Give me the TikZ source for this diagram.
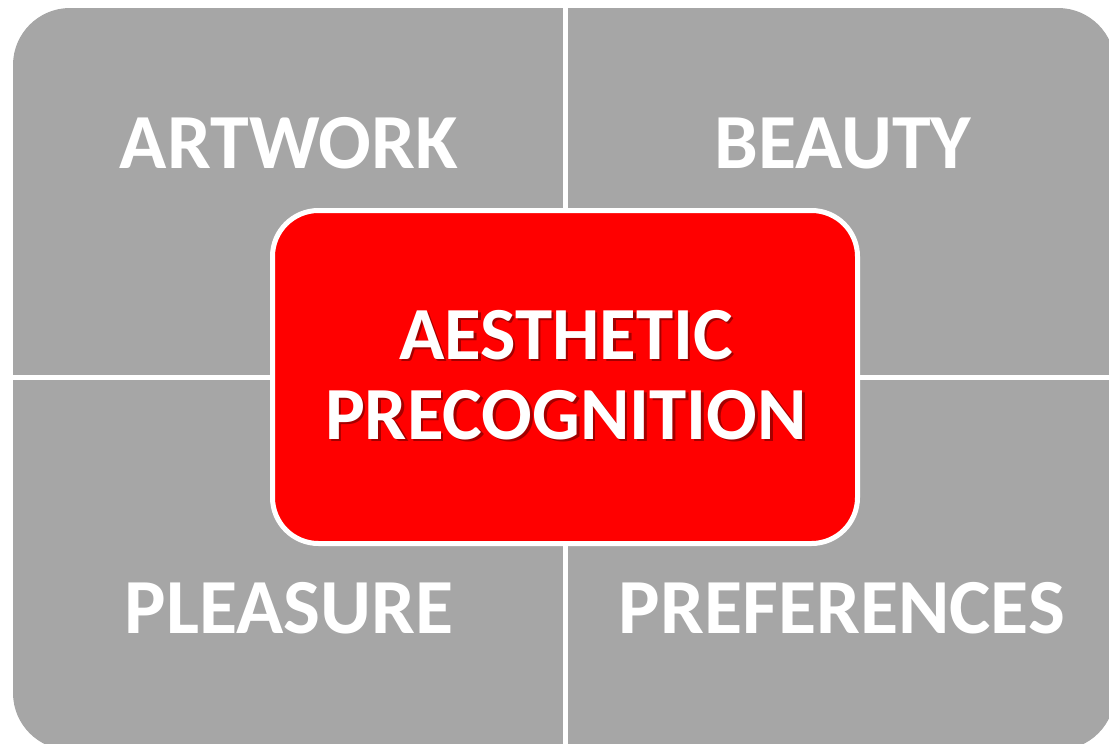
\documentclass[tikz,border=0pt]{standalone}
\usepackage{fontspec}
\setmainfont{Carlito}
\definecolor{quadgray}{HTML}{A6A6A6}
\definecolor{coreRed}{HTML}{FF0000}
\definecolor{shadowRed}{HTML}{A30000}
\newcommand{\shadowed}[1]{\leavevmode\rlap{\hspace{2.5pt}\raisebox{-2.5pt}{\textcolor{shadowRed}{#1}}}#1}
\tikzset{
  quadlabel/.style={text=white, font=\bfseries\fontsize{78}{80}\selectfont, inner sep=0pt, anchor=center},
  corelabel/.style={text=white, font=\bfseries\fontsize{75}{80}\selectfont, inner sep=0pt, anchor=center, align=center},
  gap/.style={draw=white, line width=5.5pt},
  corebox/.style={fill=coreRed, draw=white, line width=5pt, rounded corners=46pt}
}
\begin{document}
\begin{tikzpicture}[x=1pt,y=-1pt]
\useasboundingbox (0,0) rectangle (1109,744);
\begin{scope}
\clip (0,0) rectangle (1109,744);
\fill[quadgray, rounded corners=57pt] (13,8) rectangle (1115,750);
\draw[gap] (565.5,0) -- (565.5,750);
\draw[gap] (0,377.5) -- (1115,377.5);
\end{scope}
\draw[corebox] (272.5,210.5) rectangle (857.5,543.5);
\node[quadlabel] (artwork) at (289,143) {ARTWORK};
\node[quadlabel] (beauty) at (843,143) {BEAUTY};
\node[quadlabel] (pleasure) at (289,608) {PLEASURE};
\node[quadlabel] (preferences) at (842,608) {PREFERENCES};
\node[corelabel] (core) at (566,376) {\shadowed{AESTHETIC}\\\shadowed{PRECOGNITION}};
\end{tikzpicture}
\end{document}
